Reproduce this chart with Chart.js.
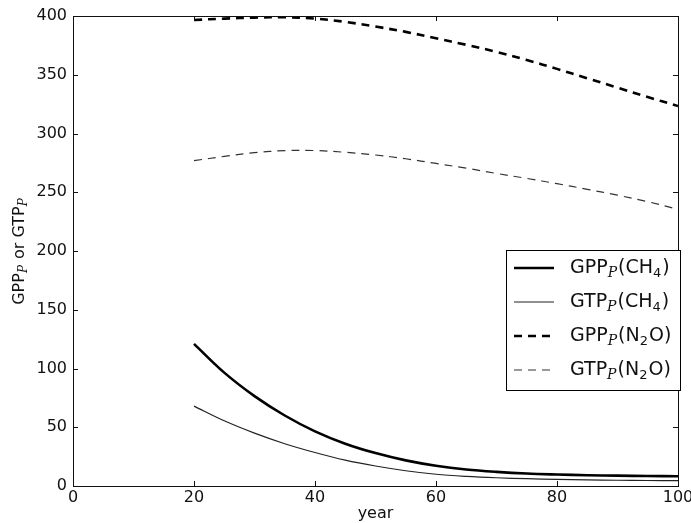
<!DOCTYPE html>
<html>
<head>
<meta charset="utf-8">
<script src="https://cdn.jsdelivr.net/npm/chart.js@4/dist/chart.umd.min.js"></script>
<style>
  html, body { margin: 0; padding: 0; background: #fff; }
  #wrap { width: 691px; height: 523px; position: relative; }
</style>
</head>
<body>
<div id="wrap"><canvas id="c" width="691" height="523"></canvas></div>
<script>
// ---- data ----
const years   = [20, 25, 30, 35, 40, 45, 50, 55, 60, 65, 70, 75, 80, 85, 90, 95, 100];
const gppCH4  = [121, 96.5, 76.5, 60, 46.5, 36, 28, 21.8, 17.2, 14, 12, 10.6, 9.8, 9.2, 8.8, 8.5, 8.3];
const gtpCH4  = [68, 55.5, 45, 36, 28.5, 22, 17, 13, 10, 8.2, 7, 6.2, 5.6, 5.2, 4.9, 4.7, 4.6];
const gppN2O  = [396.6, 397.8, 398.6, 399, 397.8, 395, 391, 386.5, 381, 375.5, 369.5, 362.5, 355, 347, 339, 331, 323.4];
const gtpN2O  = [276.9, 280.5, 283.7, 285.4, 285.5, 284, 281.7, 278.5, 274.5, 270.5, 266, 261.8, 257.3, 252.5, 247.5, 242, 235.5];
const xTicks  = [0, 20, 40, 60, 80, 100];
const yTicks  = [0, 50, 100, 150, 200, 250, 300, 350, 400];
const seriesNames = ['GPP_P(CH4)', 'GTP_P(CH4)', 'GPP_P(N2O)', 'GTP_P(N2O)'];
// legend text pieces (sub = subscript, it = math italic)
const legendParts = [
  [['GPP'], ['P', 'it'], ['(CH'], ['4', 'sub'], [')']],
  [['GTP'], ['P', 'it'], ['(CH'], ['4', 'sub'], [')']],
  [['GPP'], ['P', 'it'], ['(N'], ['2', 'sub'], ['O)']],
  [['GTP'], ['P', 'it'], ['(N'], ['2', 'sub'], ['O)']]
];
const yTitleParts = [['GPP'], ['P', 'it'], [' or GTP'], ['P', 'it']];
const xTitle = 'year';

const FONT = '"DejaVu Sans", "Liberation Sans", sans-serif';
const pts = (vals) => years.map((x, i) => ({ x, y: vals[i] }));

const styles = [
  { color: '#000000', width: 2.6, dash: [] },
  { color: '#222222', width: 1.2, dash: [] },
  { color: '#000000', width: 2.6, dash: [8, 6] },
  { color: '#333333', width: 1.2, dash: [8, 6] }
];
const seriesData = [gppCH4, gtpCH4, gppN2O, gtpN2O];

function setFont(ctx, kind, size) {
  if (kind === 'it') ctx.font = 'italic ' + Math.round(size * 0.72) + 'px "DejaVu Serif", serif';
  else if (kind === 'sub') ctx.font = Math.round(size * 0.7) + 'px ' + FONT;
  else ctx.font = size + 'px ' + FONT;
}
function drawParts(ctx, parts, x, y, size) {
  let cx = x;
  for (const p of parts) {
    const [t, kind] = p;
    setFont(ctx, kind, size);
    const dy = kind ? size * 0.27 : 0;
    ctx.fillText(t, cx, y + dy);
    cx += ctx.measureText(t).width + (kind ? 1 : 0);
  }
  return cx - x;
}
function measureParts(ctx, parts, size) {
  ctx.save();
  let w = 0;
  for (const p of parts) {
    const [t, kind] = p;
    setFont(ctx, kind, size);
    w += ctx.measureText(t).width + (kind ? 1 : 0);
  }
  ctx.restore();
  return w;
}

const framePlugin = {
  id: 'frame',
  afterDatasetsDraw(chart) {
    const { ctx, chartArea: a, scales } = chart;
    ctx.save();
    ctx.strokeStyle = '#111';
    ctx.lineWidth = 1;
    ctx.setLineDash([]);
    ctx.strokeRect(Math.round(a.left) + 0.5, Math.round(a.top) + 0.5,
                   Math.round(a.right - a.left), Math.round(a.bottom - a.top));
    const L = 5;
    ctx.beginPath();
    for (const v of xTicks) {
      const px = Math.round(scales.x.getPixelForValue(v)) + 0.5;
      ctx.moveTo(px, a.bottom); ctx.lineTo(px, a.bottom - L);
      ctx.moveTo(px, a.top); ctx.lineTo(px, a.top + L);
    }
    for (const v of yTicks) {
      const py = Math.round(scales.y.getPixelForValue(v)) + 0.5;
      ctx.moveTo(a.left, py); ctx.lineTo(a.left + L, py);
      ctx.moveTo(a.right, py); ctx.lineTo(a.right - L, py);
    }
    ctx.stroke();

    // legend box
    const bx = 506.5, by = 250.5, bw = 174, bh = 140;
    ctx.fillStyle = '#fff';
    ctx.fillRect(bx, by, bw, bh);
    ctx.strokeStyle = '#000';
    ctx.lineWidth = 1;
    ctx.strokeRect(bx, by, bw, bh);
    const rowY = [268, 302, 336, 370];
    chart.data.datasets.forEach((ds, i) => {
      const y = rowY[i];
      ctx.strokeStyle = ds.borderColor;
      ctx.lineWidth = ds.borderWidth;
      ctx.setLineDash(ds.borderDash || []);
      ctx.beginPath();
      ctx.moveTo(514, y); ctx.lineTo(554, y);
      ctx.stroke();
      ctx.setLineDash([]);
      ctx.fillStyle = '#111';
      ctx.textBaseline = 'middle';
      ctx.textAlign = 'left';
      drawParts(ctx, legendParts[i], 570, y, 19);
    });

    // y title
    ctx.save();
    ctx.translate(20, (a.top + a.bottom) / 2);
    ctx.rotate(-Math.PI / 2);
    ctx.fillStyle = '#111';
    ctx.textBaseline = 'middle';
    ctx.textAlign = 'left';
    const w = measureParts(ctx, yTitleParts, 16);
    drawParts(ctx, yTitleParts, -w / 2, 0, 16);
    ctx.restore();
    ctx.restore();
  }
};

new Chart(document.getElementById('c'), {
  type: 'line',
  data: {
    datasets: seriesData.map((vals, i) => ({
      label: seriesNames[i],
      data: pts(vals),
      borderColor: styles[i].color,
      borderWidth: styles[i].width,
      borderDash: styles[i].dash,
      pointRadius: 0,
      fill: false,
      tension: 0.35
    }))
  },
  options: {
    responsive: false,
    animation: false,
    devicePixelRatio: 1,
    layout: { padding: { top: 16, right: 13, bottom: 0, left: 0 } },
    plugins: { legend: { display: false }, tooltip: { enabled: false } },
    scales: {
      x: {
        type: 'linear', min: 0, max: 100,
        afterBuildTicks: (s) => { s.ticks = xTicks.map(v => ({ value: v })); },
        afterFit: (s) => { s.height = 37; s.paddingLeft = 0; s.paddingRight = 0; },
        grid: { display: false, drawTicks: false },
        border: { display: false },
        ticks: { color: '#111', font: { family: FONT, size: 16 }, padding: 2, maxRotation: 0 },
        title: { display: true, text: xTitle, color: '#111', font: { family: FONT, size: 16 }, padding: { top: 0, bottom: 0 } }
      },
      y: {
        type: 'linear', min: 0, max: 400,
        afterBuildTicks: (s) => { s.ticks = yTicks.map(v => ({ value: v })); },
        afterFit: (s) => { s.width = 73; s.paddingTop = 0; s.paddingBottom = 0; },
        grid: { display: false, drawTicks: false },
        border: { display: false },
        ticks: { color: '#111', font: { family: FONT, size: 16 }, padding: 6 }
      }
    }
  },
  plugins: [framePlugin]
});
</script>
</body>
</html>
